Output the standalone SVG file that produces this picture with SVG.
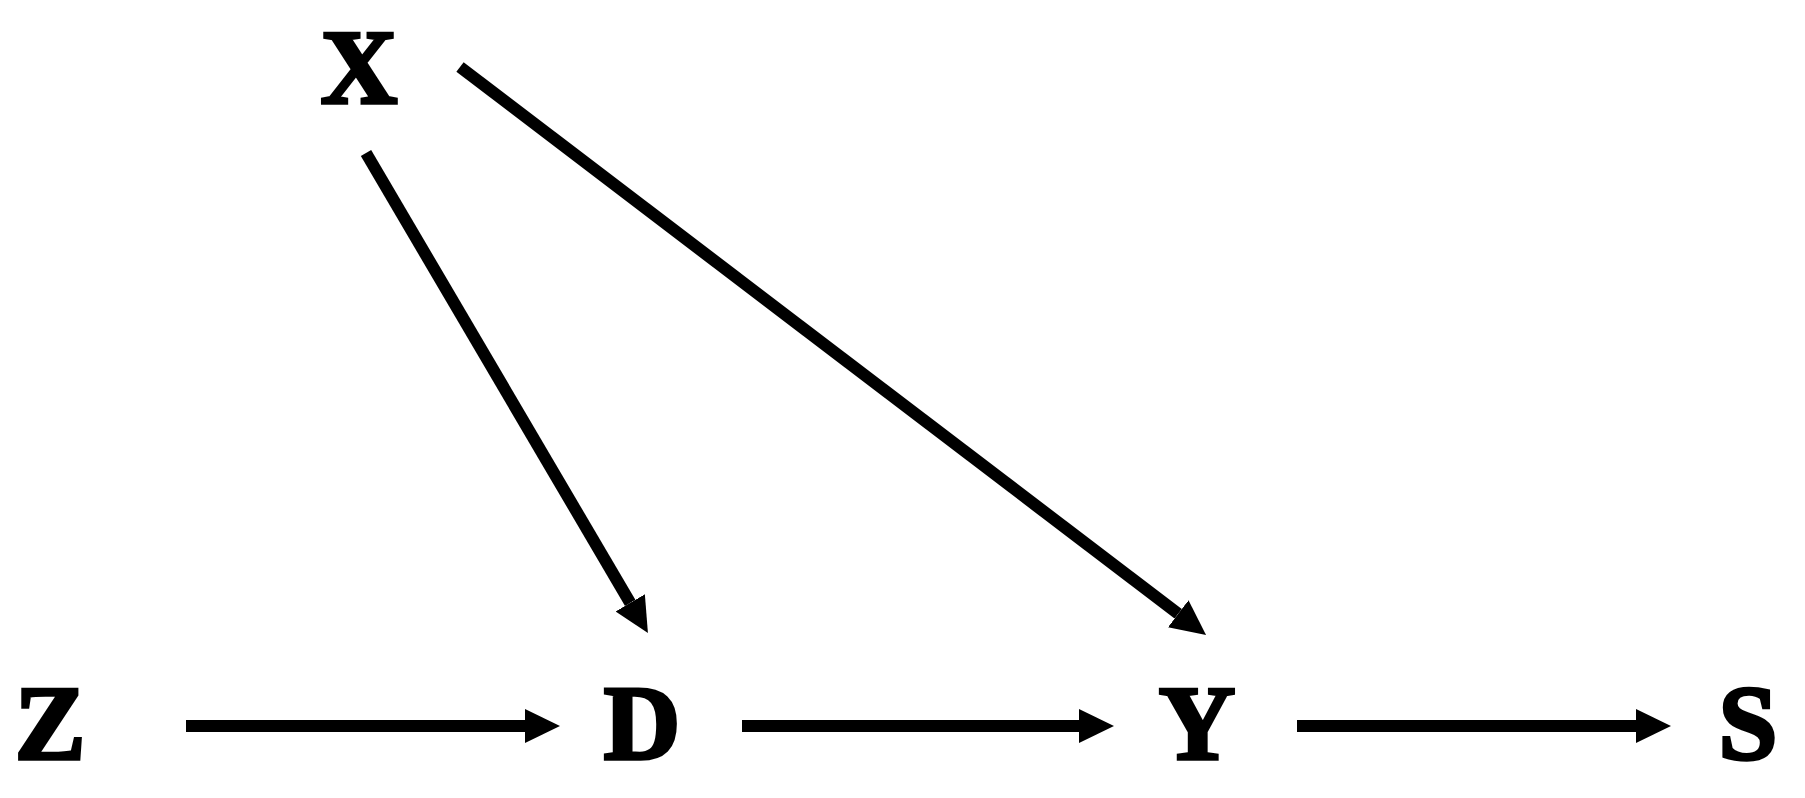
<svg xmlns="http://www.w3.org/2000/svg" width="1805" height="798" viewBox="0 0 1805 798">
<defs>
<style>
.lbl{font-family:'Liberation Serif','Times New Roman',Times,serif;font-weight:bold;font-size:106px;fill:#000;stroke:#000;stroke-width:3.5;text-anchor:middle}
.edge{stroke:#000;stroke-width:12;fill:none}
</style>
<marker id="ah" viewBox="0 0 35 34" refX="0" refY="17" markerWidth="35" markerHeight="34" markerUnits="userSpaceOnUse" orient="auto">
<path d="M0,0 L35,17 L0,34 Z" fill="#000"/>
</marker>
</defs>
<rect width="1805" height="798" fill="#fff"/>
<g id="node-X"><text class="lbl" x="359" y="103">X</text></g>
<g id="node-Z"><text class="lbl" x="50" y="759">Z</text></g>
<g id="node-D"><text class="lbl" x="642" y="759">D</text></g>
<g id="node-Y"><text class="lbl" x="1197" y="759">Y</text></g>
<g id="node-S"><text class="lbl" x="1748" y="759">S</text></g>
<g id="connectors">
<line class="edge" x1="186" y1="726" x2="525" y2="726" marker-end="url(#ah)"/>
<line class="edge" x1="742" y1="726" x2="1079" y2="726" marker-end="url(#ah)"/>
<line class="edge" x1="1297" y1="726" x2="1636" y2="726" marker-end="url(#ah)"/>
<line class="edge" x1="366" y1="153" x2="630.2" y2="602.9" marker-end="url(#ah)"/>
<line class="edge" x1="460" y1="67" x2="1178.2" y2="613.8" marker-end="url(#ah)"/>
</g>
</svg>
